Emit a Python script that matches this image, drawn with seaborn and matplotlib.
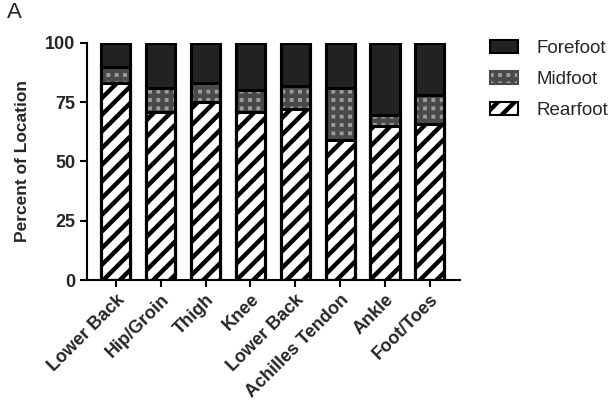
import matplotlib
matplotlib.use("Agg")
import matplotlib.pyplot as plt
import seaborn as sns
import numpy as np
import pandas as pd
from matplotlib.patches import Patch

locations = ["Lower Back", "Hip/Groin", "Thigh", "Knee", "Lower Back", "Achilles Tendon", "Ankle", "Foot/Toes"]
rearfoot = [83, 71, 75, 71, 72, 59, 65, 66]
midfoot = [7, 10, 8, 9, 10, 22, 4.5, 12]
forefoot = [10, 19, 17, 20, 18, 19, 30.5, 22]

sns.set_style("ticks")
plt.rcParams['font.family'] = ['Liberation Sans', 'DejaVu Sans']
plt.rcParams['hatch.linewidth'] = 3.2

fig = plt.figure(figsize=(6.1, 4.13), dpi=100)
ax = fig.add_axes([0.142, 0.322, 0.612, 0.574])

xs = [f"{i}" for i in range(len(locations))]
rear = np.array(rearfoot)
mid = rear + np.array(midfoot)
tot = mid + np.array(forefoot)

df = pd.DataFrame({"x": xs, "tot": tot, "mid": mid, "rear": rear})

n = len(xs)
W = 0.65
LW = 2.2
sns.barplot(data=df, x="x", y="tot", color="#222222", width=W, edgecolor="black",
            linewidth=LW, saturation=1, ax=ax)
sns.barplot(data=df, x="x", y="mid", color="#9c9c9c", width=W, edgecolor="#4a4a4a",
            linewidth=0, saturation=1, ax=ax)
sns.barplot(data=df, x="x", y="rear", color="white", width=W, edgecolor="black",
            linewidth=LW, saturation=1, ax=ax)
# outlines on top
sns.barplot(data=df, x="x", y="mid", fill=False, width=W, edgecolor="black",
            linewidth=LW, ax=ax)
sns.barplot(data=df, x="x", y="tot", fill=False, width=W, edgecolor="black",
            linewidth=LW, ax=ax)

patches = ax.patches
for p in patches[n:2 * n]:
    p.set_hatch("++")
for p in patches[2 * n:3 * n]:
    p.set_hatch("//")

ax.set_xlim(-0.65, n - 1 + 0.67)
ax.set_ylim(0, 100)
ax.set_yticks([0, 25, 50, 75, 100])
ax.set_xticks(range(n))
ax.set_xticklabels(locations, rotation=45, ha="right", rotation_mode="anchor",
                   fontsize=13, fontweight="bold")
for t in ax.get_yticklabels():
    t.set_fontweight("bold")
    t.set_fontsize(13)
ax.set_xlabel("")
ax.set_ylabel("Percent of Location", fontsize=12.5, fontweight="bold", labelpad=11)
ax.tick_params(axis="both", width=1.5, length=5, color="black", pad=3)
for s in ["left", "bottom"]:
    ax.spines[s].set_linewidth(1.5)
    ax.spines[s].set_color("black")
sns.despine(ax=ax)

handles = [
    Patch(facecolor="#222222", edgecolor="black", linewidth=1.5, label="Forefoot"),
    Patch(facecolor="#9c9c9c", edgecolor="#4a4a4a", linewidth=1.5, hatch="++", label="Midfoot"),
    Patch(facecolor="white", edgecolor="black", linewidth=1.5, hatch="//", label="Rearfoot"),
]
fig.legend(handles=handles, loc="upper left", bbox_to_anchor=(0.775, 0.945), frameon=False,
           fontsize=13.5, handlelength=1.5, handleheight=0.7, labelspacing=0.75, handletextpad=1.0)

fig.text(0.012, 0.995, "A", fontsize=16, va="top", ha="left")

fig.savefig("out.png", dpi=100)
